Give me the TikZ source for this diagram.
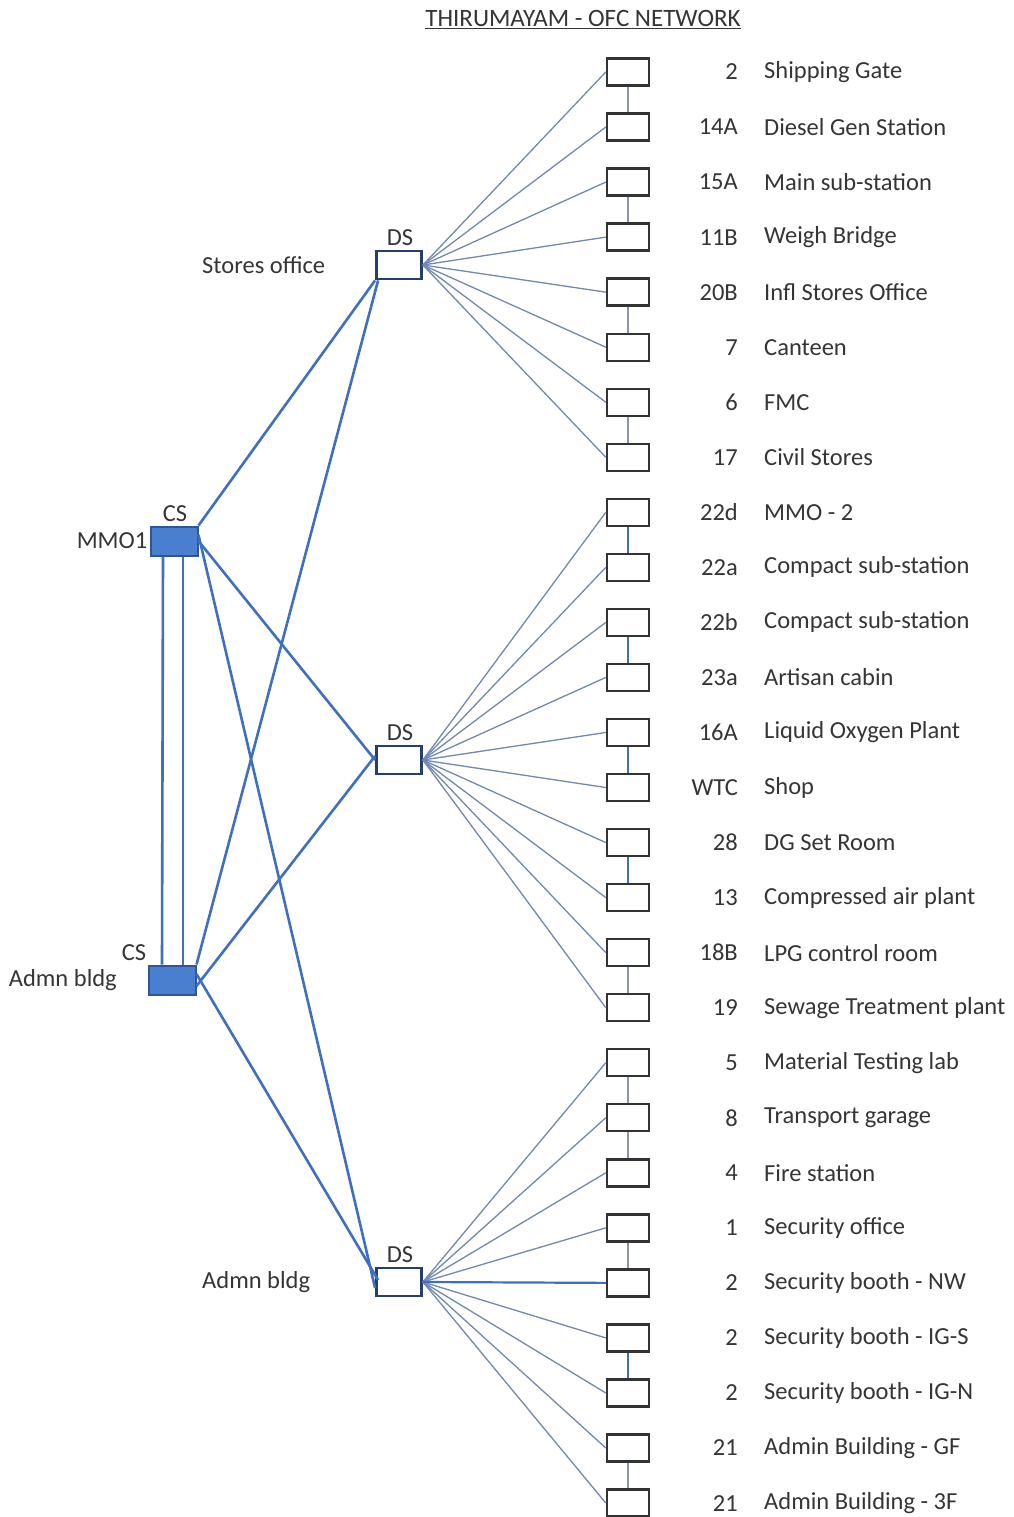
\documentclass[tikz,border=0pt]{standalone}
\usepackage{fontspec}
\setmainfont{Carlito}
\definecolor{txtgrey}{HTML}{353535}
\definecolor{csblue}{HTML}{4A7FD0}
\definecolor{csborder}{HTML}{2F5597}
\definecolor{linkblue}{HTML}{3F6FBF}
\definecolor{fangrey}{HTML}{7189AE}
\definecolor{boxgrey}{HTML}{333333}
\definecolor{dsborder}{HTML}{243E6E}
\definecolor{chaingrey}{HTML}{8A96AA}
\begin{document}
\begin{tikzpicture}[x=1pt,y=-1pt,
  txt/.style={font=\fontsize{24.5}{28}\selectfont, text=txtgrey, inner sep=0pt},
  endbox/.style={draw=boxgrey, line width=2.4pt, minimum width=42pt, minimum height=27pt, inner sep=0pt, fill=white},
  dsbox/.style={draw=dsborder, line width=2.8pt, minimum width=45pt, minimum height=28pt, inner sep=0pt, fill=white},
  csbox/.style={draw=csborder, line width=2pt, fill=csblue, minimum width=47pt, minimum height=29pt, inner sep=0pt},
  trunk/.style={draw=linkblue, line width=2.6pt},
  fan/.style={draw=fangrey, line width=1.3pt},
  chain/.style={draw=chaingrey, line width=1.8pt},
  chainb/.style={draw=linkblue, line width=2.4pt}]
\useasboundingbox (0,0) rectangle (1014,1517);
\fill[white] (0,0) rectangle (1014,1517);

% title
\node[txt, font=\fontsize{25}{29}\selectfont] (title) at (583,18) {THIRUMAYAM - OFC NETWORK};
\draw[txtgrey, line width=1.8pt] ([yshift=-2pt]title.south west) -- ([yshift=-2pt]title.south east);

% end boxes, numbers, labels
\foreach \i/\n/\t in {1/2/Shipping Gate, 2/14A/Diesel Gen Station, 3/15A/Main sub-station, 4/11B/Weigh Bridge,
  5/20B/Infl Stores Office, 6/7/Canteen, 7/6/FMC, 8/17/Civil Stores, 9/22d/MMO - 2,
  10/22a/Compact sub-station, 11/22b/Compact sub-station, 12/23a/Artisan cabin,
  13/16A/Liquid Oxygen Plant, 14/WTC/Shop, 15/28/DG Set Room, 16/13/Compressed air plant,
  17/18B/LPG control room, 18/19/Sewage Treatment plant, 19/5/Material Testing lab,
  20/8/Transport garage, 21/4/Fire station, 22/1/Security office, 23/2/Security booth - NW,
  24/2/Security booth - IG-S, 25/2/Security booth - IG-N, 26/21/Admin Building - GF,
  27/21/Admin Building - 3F}{
  \pgfmathsetmacro{\yy}{72+(\i-1)*55.04}
  \node[endbox] (r\i) at (628,\yy) {};
  \node[txt, anchor=east] (n\i) at (738,\yy) {\n};
  \node[txt, anchor=west] (l\i) at (764,\yy) {\t};
}

% distribution switches
\node[dsbox] (ds1) at (399,265) {};
\node[dsbox] (ds2) at (399,760) {};
\node[dsbox] (ds3) at (399,1282) {};
\node[txt] (ds1t) at (400,238) {DS};
\node[txt] (ds2t) at (400,733) {DS};
\node[txt] (ds3t) at (400,1255) {DS};
\node[txt, anchor=west] (so) at (202,265) {Stores office};
\node[txt, anchor=west] (ab2) at (202,1282) {Admn bldg};

% core switches
\node[csbox] (cs1) at (174,541) {};
\node[csbox] (cs2) at (172,980) {};
\node[txt] (cs1t) at (175,514) {CS};
\node[txt] (cs2t) at (134,953) {CS};
\node[txt, anchor=east] (mmo) at ([xshift=-2pt]cs1.west) {MMO1};
\node[txt, anchor=east] (ab1) at (117,980) {Admn bldg};

% core trunk (double)
\draw[trunk] ([xshift=-11pt]cs1.south) -- ([xshift=-10pt]cs2.north);
\draw[trunk] ([xshift=9pt]cs1.south) -- ([xshift=11pt]cs2.north);

% CS to DS
\draw[trunk] (cs1.north east) -- (ds1.south west);
\draw[trunk] (cs1.east) -- (ds2.west);
\draw[trunk] ([yshift=6pt]cs1.east) -- ([yshift=-6pt]ds3.west);
\draw[trunk] (cs2.north east) -- ([xshift=3pt]ds1.south west);
\draw[trunk] ([yshift=-6pt]cs2.east) -- ([yshift=4pt]ds2.west);
\draw[trunk] ([yshift=6pt]cs2.east) -- ([xshift=3pt,yshift=2pt]ds3.west);

% fans
\foreach \i in {1,...,8}{ \draw[fan] (ds1.east) -- (r\i.west); }
\foreach \i in {9,...,18}{ \draw[fan] (ds2.east) -- (r\i.west); }
\foreach \i in {19,...,22,24,25,26,27}{ \draw[fan] (ds3.east) -- (r\i.west); }
\draw[trunk, line width=2.2pt] (ds3.east) -- (r23.west);

% chain links between end boxes
\foreach \a/\b in {1/2,3/4,5/6,7/8,17/18,19/20,20/21,22/23,26/27}{ \draw[chain] (r\a.south) -- (r\b.north); }
\foreach \a/\b in {9/10,11/12,13/14,15/16,24/25}{ \draw[chainb] (r\a.south) -- (r\b.north); }
\end{tikzpicture}
\end{document}
